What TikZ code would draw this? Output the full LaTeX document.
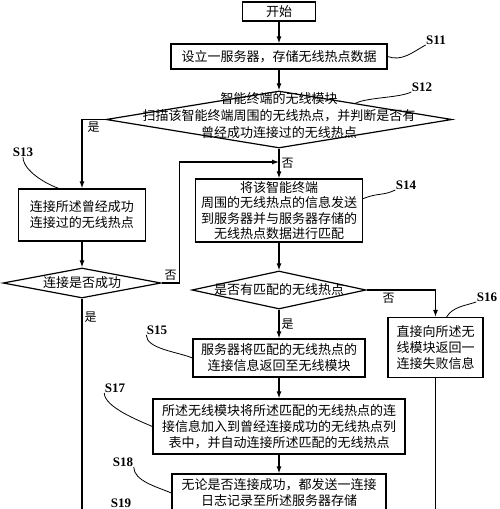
\documentclass[tikz,border=0pt]{standalone}
\usepackage{fontspec}
\setmainfont{Liberation Serif}
\newfontfamily\cjk{Noto Sans CJK SC}
\usepackage{tikz}
\usetikzlibrary{positioning,shapes,arrows.meta}
\tikzstyle{pr}=[%
      rectangle, draw=black, line width=1.2pt, fill=white,
      align=center, inner sep=1pt, font=\cjk\fontsize{13}{16}\selectfont
]
\tikzstyle{dc}=[%
      diamond, draw=black, line width=1.2pt, inner sep=0pt
]
\tikzstyle{tx}=[%
      align=center, inner sep=0pt, font=\cjk\fontsize{13}{17}\selectfont
]
\tikzstyle{yn}=[%
      font=\cjk\fontsize{12}{14}\selectfont, inner sep=2pt
]
\tikzstyle{sl}=[%
      font=\bfseries\fontsize{13}{15}\selectfont, inner sep=0pt
]
\tikzstyle{wv}=[-, line width=0.8pt]
\begin{document}
\begin{tikzpicture}[x=1pt, y=-1pt, line width=1.2pt,
    -{Latex[length=7pt,width=5pt]}
  ]
    \useasboundingbox (0,0) rectangle (500,509);
    \clip (0,0) rectangle (500,509);

    % main column
    \node[pr, minimum width=73pt, minimum height=19pt, inner sep=0pt] (start) at (279,11.5) {开始};
    \node[pr, minimum width=216pt, minimum height=25pt] (s11) [below = 21.8pt of start] {设立一服务器，存储无线热点数据};
    \node[dc, minimum width=346pt, minimum height=57pt] (s12) [below = 20.8pt of s11] {};
    \node[tx] (s12t) at ([yshift=4pt]s12.center) {智能终端的无线模块\\扫描该智能终端周围的无线热点，并判断是否有\\曾经成功连接过的无线热点};
    \node[pr, minimum width=167pt, minimum height=63pt, font=\cjk\fontsize{13}{15.5}\selectfont] (s14) [below = 29.8pt of s12] {将该智能终端\\周围的无线热点的信息发送\\到服务器并与服务器存储的\\无线热点数据进行匹配};
    \node[dc, minimum width=174pt, minimum height=38pt] (s14d) [below = 27.8pt of s14] {};
    \node[tx] (s14dt) at (s14d) {是否有匹配的无线热点};
    \node[pr, minimum width=172pt, minimum height=38pt] (s15) [below = 28.8pt of s14d] {服务器将匹配的无线热点的\\连接信息返回至无线模块};
    \node[pr, minimum width=252pt, minimum height=55pt] (s17) [below = 20.8pt of s15] {所述无线模块将所述匹配的无线热点的连\\接信息加入到曾经连接成功的无线热点列\\表中，并自动连接所述匹配的无线热点};
    \node[pr, minimum width=214pt, minimum height=38pt] (s18) [below = 18.8pt of s17] {无论是否连接成功，都发送一连接\\日志记录至所述服务器存储};

    % side columns
    \node[pr, minimum width=127pt, minimum height=52pt] (s13) at (82,215) {连接所述曾经成功\\连接过的无线热点};
    \node[dc, minimum width=158pt, minimum height=30pt] (s13d) [below = 25.8pt of s13] {};
    \node[tx] (s13dt) at (s13d) {连接是否成功};
    \node[pr, minimum width=95pt, minimum height=60pt] (s16) at (435.5,347.5) {直接向所述无\\线模块返回一\\连接失败信息};

    \coordinate (m1) at (279,162);
    \coordinate (e13) at (82,530);
    \coordinate (e16) at (435.5,530);

    % step labels
    \node[sl] (l11) at (436,40) {S11};
    \node[sl] (l12) at (422,87) {S12};
    \node[sl] (l13) at (23,152) {S13};
    \node[sl] (l14) at (406,185) {S14};
    \node[sl] (l15) at (157,330) {S15};
    \node[sl] (l16) at (487,297) {S16};
    \node[sl] (l17) at (115,388) {S17};
    \node[sl] (l18) at (123,462) {S18};
    \node[sl] (l19) at (121,503) {S19};

    \draw (start) -- (s11);
    \draw (s11) -- (s12);
    \draw (s12) -- node[yn, right, pos=0.5] {否} (s14);
    \draw (s12.west) -| node[yn, below, pos=0.25] {是} (s13.north);
    \draw (s13) -- (s13d);
    \draw (s13d.east) -- node[yn, above] {否} ++(18,0) |- (m1);
    \draw (s14) -- (s14d);
    \draw (s14d) -- node[yn, right] {是} (s15);
    \draw (s14d.east) -| node[yn, below, pos=0.16] {否} (s16.north);
    \draw (s15) -- (s17);
    \draw (s17) -- (s18);
    \draw[-] (s13d.south) -- node[yn, right, pos=0.08] {是} (e13);
    \draw[-] (s16) -- (e16);

    \draw[wv] (s11.east) .. controls +(14,5) and +(-14,8) .. (l11.south west);
    \draw[wv] (s12.12) .. controls +(12,-6) and +(-12,6) .. (l12.south west);
    \draw[wv] (l13.south) .. controls +(0,14) and +(-12,-4) .. (s13.131);
    \draw[wv] (s14.8) .. controls +(14,-6) and +(-12,6) .. (l14.south west);
    \draw[wv] (l15.south west) .. controls +(0,14) and +(-14,-6) .. (s15.west);
    \draw[wv] (s16.70) .. controls +(6,-10) and +(-12,4) .. (l16.south west);
    \draw[wv] (l17.south west) .. controls +(0,14) and +(-14,-6) .. (s17.west);
    \draw[wv] (l18.south east) .. controls +(0,14) and +(-14,-6) .. (s18.west);
  \end{tikzpicture}
\end{document}
